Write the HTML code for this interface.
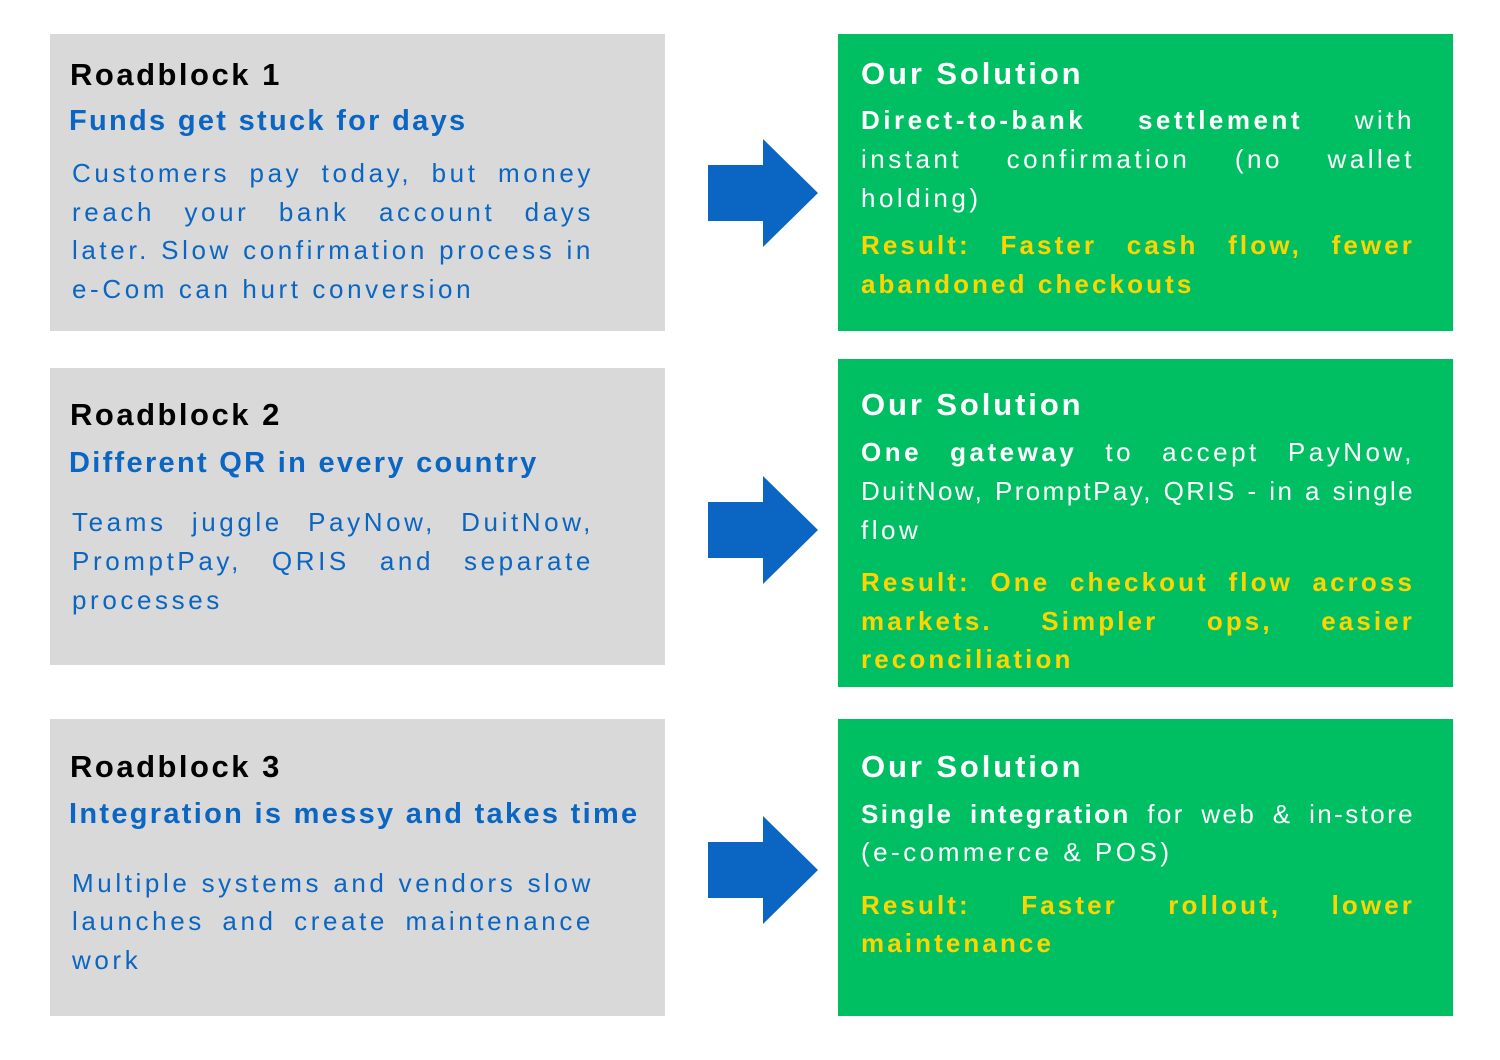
<!DOCTYPE html>
<html><head><meta charset="utf-8"><style>
body{margin:0;width:1500px;height:1060px;background:#fff;position:relative;font-family:"Liberation Sans",sans-serif;overflow:hidden}
.box{position:absolute}
.g{background:#d9d9d9;left:50px;width:615px}
.s{background:#00bf63;left:838px;width:615px}
.l{position:absolute;height:36px;line-height:36px;white-space:nowrap;text-align:justify;text-align-last:justify}
.L{left:72px;width:522px}
.R{left:861px;width:554px}
.e{text-align-last:left}
.t{font-weight:bold;font-size:31px;letter-spacing:2.5px;color:#000;left:70px}
.st{font-weight:bold;font-size:29px;letter-spacing:2.3px;color:#0a66c2;left:69px}
.b{font-size:26px;letter-spacing:3.6px;color:#0a66c2}
.gt{font-weight:bold;font-size:31px;letter-spacing:2.9px;color:#fff;left:861px}
.w{font-size:26px;letter-spacing:3.5px;color:#fff}
.y{font-size:26px;font-weight:bold;letter-spacing:3.1px;color:#ffd500}
.arr{position:absolute;left:708px}
</style></head><body>
<div class="box g" style="top:34px;height:297px"></div>
<div class="box g" style="top:368px;height:297px"></div>
<div class="box g" style="top:719px;height:297px"></div>
<div class="box s" style="top:34px;height:297px"></div>
<div class="box s" style="top:359px;height:328px"></div>
<div class="box s" style="top:719px;height:297px"></div>

<svg class="arr" style="top:139px" width="112" height="110"><polygon points="0,26 55,26 55,0 110,54 55,108 55,82 0,82" fill="#0a66c2"/></svg>
<svg class="arr" style="top:476px" width="112" height="110"><polygon points="0,26 55,26 55,0 110,54 55,108 55,82 0,82" fill="#0a66c2"/></svg>
<svg class="arr" style="top:816px" width="112" height="110"><polygon points="0,26 55,26 55,0 110,54 55,108 55,82 0,82" fill="#0a66c2"/></svg>

<div class="l t e" style="top:57px">Roadblock 1</div>
<div class="l st e" style="top:103px">Funds get stuck for days</div>
<div class="l L b" style="top:155px">Customers pay today, but money</div>
<div class="l L b" style="top:194px">reach your bank account days</div>
<div class="l L b" style="top:232px">later. Slow confirmation process in</div>
<div class="l L b e" style="top:271px">e-Com can hurt conversion</div>

<div class="l t e" style="top:397px">Roadblock 2</div>
<div class="l st e" style="top:445px">Different QR in every country</div>
<div class="l L b" style="top:504px">Teams juggle PayNow, DuitNow,</div>
<div class="l L b" style="top:543px">PromptPay, QRIS and separate</div>
<div class="l L b e" style="top:582px">processes</div>

<div class="l t e" style="top:749px">Roadblock 3</div>
<div class="l st e" style="top:796px">Integration is messy and takes time</div>
<div class="l L b" style="top:865px">Multiple systems and vendors slow</div>
<div class="l L b" style="top:903px">launches and create maintenance</div>
<div class="l L b e" style="top:942px">work</div>

<div class="l gt e" style="top:56px">Our Solution</div>
<div class="l R w" style="top:102px"><b>Direct-to-bank settlement</b> with</div>
<div class="l R w" style="top:141px">instant confirmation (no wallet</div>
<div class="l R w e" style="top:180px">holding)</div>
<div class="l R y" style="top:227px">Result: Faster cash flow, fewer</div>
<div class="l R y e" style="top:266px">abandoned checkouts</div>

<div class="l gt e" style="top:387px">Our Solution</div>
<div class="l R w" style="top:434px"><b>One gateway</b> to accept PayNow,</div>
<div class="l R w" style="top:473px;letter-spacing:2.4px">DuitNow, PromptPay, QRIS - in a single</div>
<div class="l R w e" style="top:512px">flow</div>
<div class="l R y" style="top:564px">Result: One checkout flow across</div>
<div class="l R y" style="top:603px">markets. Simpler ops, easier</div>
<div class="l R y e" style="top:641px">reconciliation</div>

<div class="l gt e" style="top:749px">Our Solution</div>
<div class="l R w" style="top:796px;letter-spacing:2.4px"><b>Single integration</b> for web &amp; in-store</div>
<div class="l R w e" style="top:834px">(e-commerce &amp; POS)</div>
<div class="l R y" style="top:887px">Result: Faster rollout, lower</div>
<div class="l R y e" style="top:925px">maintenance</div>
</body></html>
